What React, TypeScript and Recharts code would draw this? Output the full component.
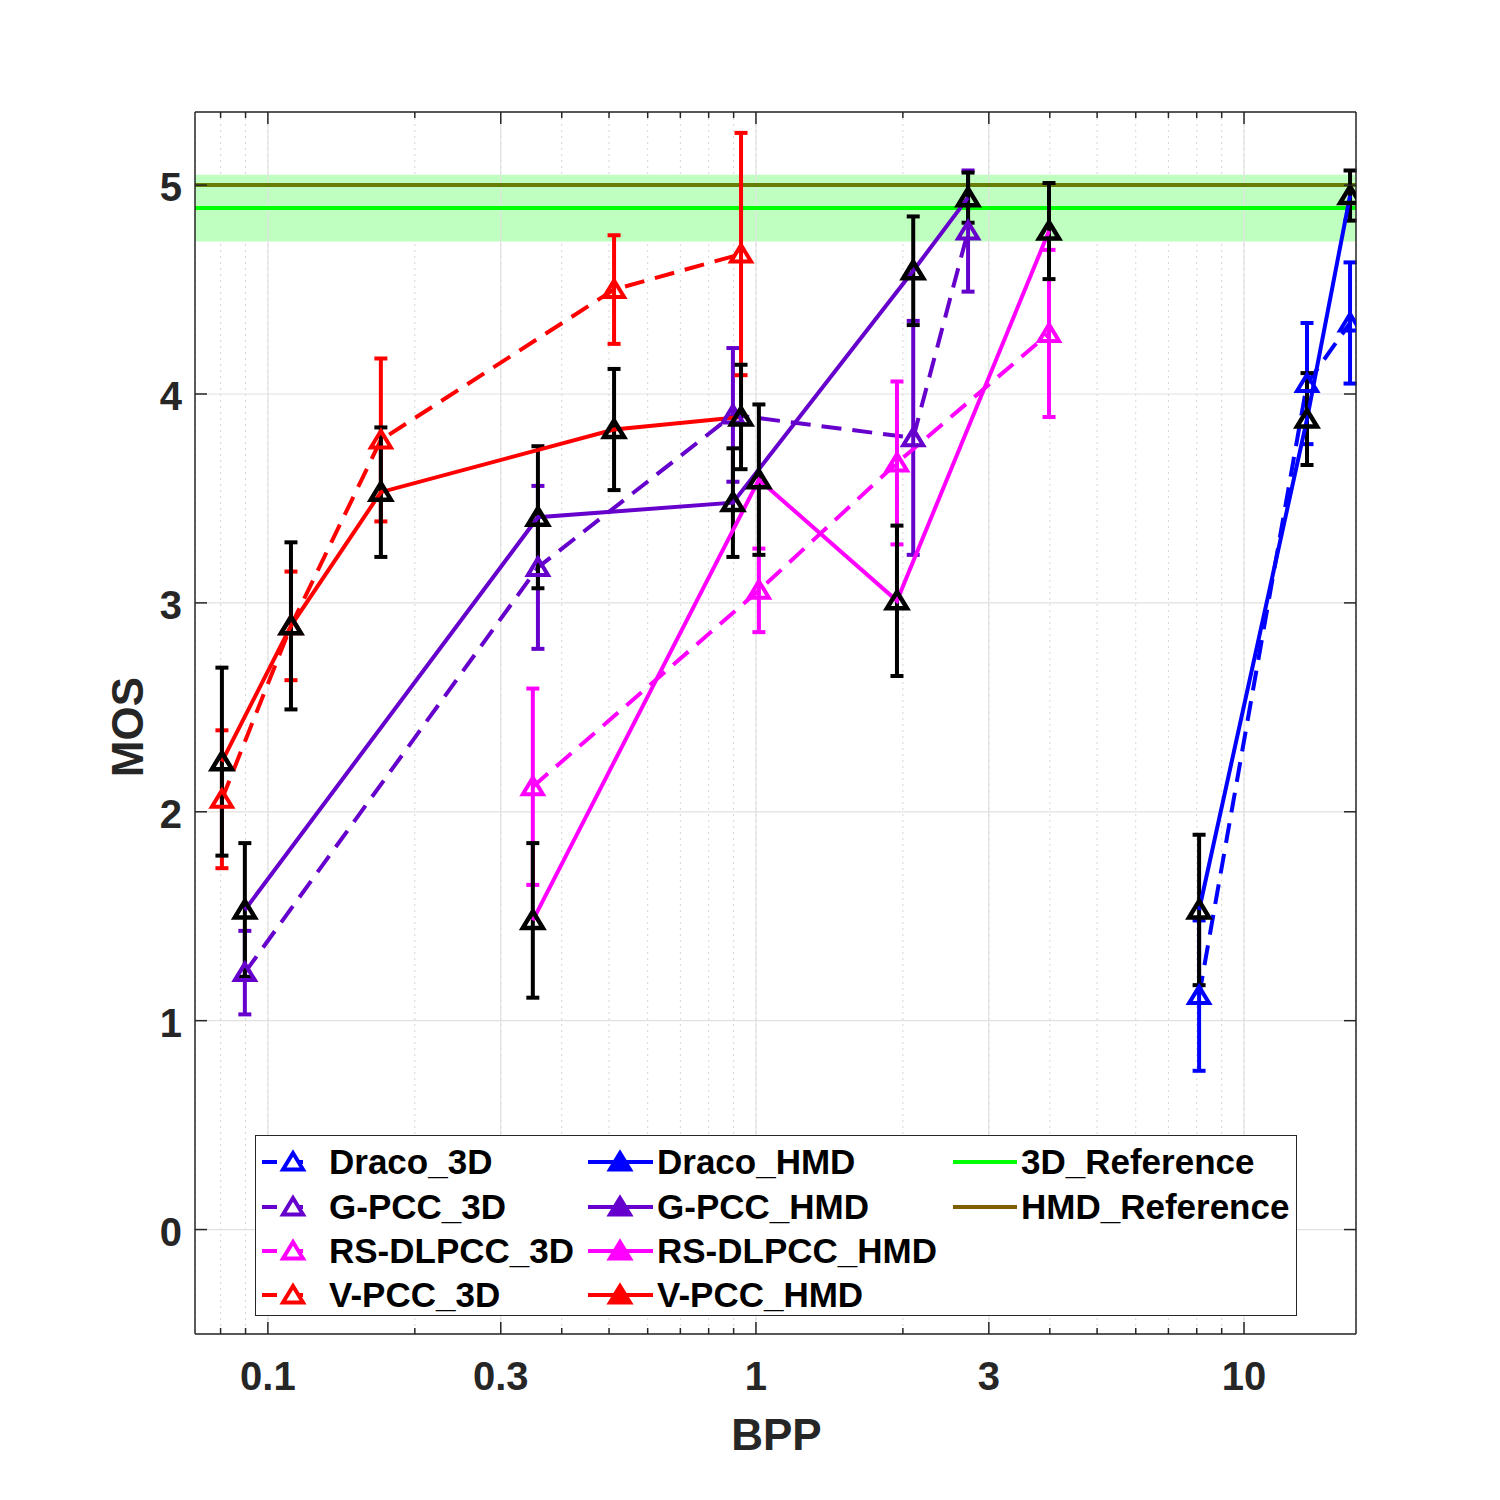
import React from 'react';
import {
  ComposedChart, Line, XAxis, YAxis, CartesianGrid, ReferenceLine, ReferenceArea, ErrorBar
} from 'recharts';

const FONT = '"Liberation Sans", Arial, Helvetica, sans-serif';
const AXIS = '#262626';

// values: BPP, MOS and half width of the 95% CI
const dracoBpp = [8.09, 13.46, 16.49];
const draco3dMos = [1.12, 4.05, 4.34];
const draco3dCi = [0.36, 0.29, 0.29];
const dracoHmdMos = [1.53, 3.88, 4.95];
const dracoHmdCi = [0.36, 0.22, 0.12];

const gpccBpp = [0.0897, 0.3575, 0.897, 2.1, 2.72];
const gpcc3dMos = [1.23, 3.17, 3.9, 3.79, 4.78];
const gpcc3dCi = [0.2, 0.39, 0.32, 0.56, 0.29];
const gpccHmdMos = [1.53, 3.41, 3.48, 4.59, 4.94];
const gpccHmdCi = [0.32, 0.34, 0.26, 0.26, 0.12];

const rsBpp = [0.349, 1.014, 1.945, 3.985];
const rs3dMos = [2.12, 3.06, 3.67, 4.29];
const rs3dCi = [0.47, 0.2, 0.39, 0.4];
const rsHmdMos = [1.48, 3.59, 3.01, 4.78];
const rsHmdCi = [0.37, 0.36, 0.36, 0.23];

const vpccBpp = [0.0805, 0.1115, 0.1704, 0.512, 0.932];
const vpcc3dMos = [2.06, 2.89, 3.78, 4.5, 4.67];
const vpcc3dCi = [0.33, 0.26, 0.39, 0.26, 0.58];
const vpccHmdMos = [2.24, 2.89, 3.53, 3.83, 3.89];
const vpccHmdCi = [0.45, 0.4, 0.31, 0.29, 0.25];

const ref3dMos = 4.89;
const ref3dBand = [4.73, 5.05];
const refHmdMos = 5.0;

const xMajorTicks = [0.1, 0.3, 1, 3, 10];
const xMinorTicks = [0.08, 0.09, 0.2, 0.4, 0.5, 0.6, 0.7, 0.8, 0.9, 2, 4, 5, 6, 7, 8, 9];
const yTicks = [0, 1, 2, 3, 4, 5];

const xTicks = [...xMajorTicks, ...xMinorTicks].sort((a, b) => a - b);

const rows = (bpp: number[], mos: number[], ci: number[]) =>
  bpp.map((b, i) => ({ bpp: b, mos: mos[i], ci: ci[i] }));

const series3d = [
  { name: 'Draco_3D', color: '#0000FF', data: rows(dracoBpp, draco3dMos, draco3dCi) },
  { name: 'G-PCC_3D', color: '#6600CC', data: rows(gpccBpp, gpcc3dMos, gpcc3dCi) },
  { name: 'RS-DLPCC_3D', color: '#FF00FF', data: rows(rsBpp, rs3dMos, rs3dCi) },
  { name: 'V-PCC_3D', color: '#FF0000', data: rows(vpccBpp, vpcc3dMos, vpcc3dCi) },
];

const seriesHmd = [
  { name: 'Draco_HMD', color: '#0000FF', data: rows(dracoBpp, dracoHmdMos, dracoHmdCi) },
  { name: 'G-PCC_HMD', color: '#6600CC', data: rows(gpccBpp, gpccHmdMos, gpccHmdCi) },
  { name: 'RS-DLPCC_HMD', color: '#FF00FF', data: rows(rsBpp, rsHmdMos, rsHmdCi) },
  { name: 'V-PCC_HMD', color: '#FF0000', data: rows(vpccBpp, vpccHmdMos, vpccHmdCi) },
];

const refs = [
  { name: '3D_Reference', color: '#00FF00' },
  { name: 'HMD_Reference', color: '#7F5F00' },
];

const DASH = '20 11';
const LW = 4;

const triPoints = (cx: number, cy: number) =>
  `${cx},${cy - 9} ${cx - 10},${cy + 7.5} ${cx + 10},${cy + 7.5}`;

const openTri = (color: string) => (p: any) => (
  <polygon key={`o-${p.index}`} points={triPoints(p.cx, p.cy)} fill="none" stroke={color} strokeWidth={4} />
);

const blackTri = (p: any) => (
  <polygon key={`b-${p.index}`} points={triPoints(p.cx, p.cy)} fill="none" stroke="#000" strokeWidth={4.5} />
);

const tickText = { fontFamily: FONT, fontSize: 40, fontWeight: 700, fill: AXIS };

const BottomTick = (p: any) => {
  const v = p.payload.value;
  const major = xMajorTicks.includes(v);
  return (
    <g>
      <line x1={p.x} x2={p.x} y1={p.y} y2={p.y - (major ? 12 : 6)} stroke={AXIS} strokeWidth={1.5} />
      {major && <text x={p.x} y={p.y + 56} textAnchor="middle" {...tickText}>{String(v)}</text>}
    </g>
  );
};

const TopTick = (p: any) => {
  const major = xMajorTicks.includes(p.payload.value);
  return <line x1={p.x} x2={p.x} y1={p.y} y2={p.y + (major ? 12 : 6)} stroke={AXIS} strokeWidth={1.5} />;
};

const LeftTick = (p: any) => (
  <g>
    <line x1={p.x} x2={p.x + 12} y1={p.y} y2={p.y} stroke={AXIS} strokeWidth={1.5} />
    <text x={p.x - 13} y={p.y + 16} textAnchor="end" {...tickText}>{String(p.payload.value)}</text>
  </g>
);

const RightTick = (p: any) => (
  <line x1={p.x} x2={p.x - 12} y1={p.y} y2={p.y} stroke={AXIS} strokeWidth={1.5} />
);

const YTitle = ({ viewBox }: any) => {
  const cx = viewBox.x + viewBox.width - 52;
  const cy = viewBox.y + viewBox.height / 2 + 4;
  return (
    <text x={cx} y={cy} transform={`rotate(-90 ${cx} ${cy})`} textAnchor="middle"
      fontFamily={FONT} fontSize={44} fontWeight={700} fill={AXIS}>MOS</text>
  );
};

const XTitle = ({ viewBox }: any) => (
  <text x={viewBox.x + viewBox.width / 2 + 1} y={viewBox.y + 116} textAnchor="middle"
    fontFamily={FONT} fontSize={44} fontWeight={700} fill={AXIS}>BPP</text>
);

// legend box, three columns like the MATLAB one
const LegendBox = () => {
  const rowY = [27, 72, 116, 160];
  const label = { fontFamily: FONT, fontSize: 35, fontWeight: 700, fill: '#000' };
  return (
    <div style={{
      position: 'absolute', left: 255, top: 1135, width: 1042, height: 181,
      background: '#fff', border: `1.5px solid ${AXIS}`, boxSizing: 'border-box',
    }}>
      <svg width={1042} height={181} style={{ position: 'absolute', left: -1.5, top: -1.5 }}>
        {series3d.map((s, i) => (
          <g key={s.name}>
            <line x1={7} x2={55} y1={rowY[i]} y2={rowY[i]} stroke={s.color} strokeWidth={4} strokeDasharray="15 11" />
            <polygon points={triPoints(38, rowY[i])} fill="#fff" stroke={s.color} strokeWidth={4} />
            <text x={74} y={rowY[i] + 12} {...label}>{s.name}</text>
          </g>
        ))}
        {seriesHmd.map((s, i) => (
          <g key={s.name}>
            <line x1={333} x2={398} y1={rowY[i]} y2={rowY[i]} stroke={s.color} strokeWidth={4} />
            <polygon points={triPoints(365, rowY[i])} fill={s.color} stroke={s.color} strokeWidth={4} />
            <text x={402} y={rowY[i] + 12} {...label}>{s.name}</text>
          </g>
        ))}
        {refs.map((r, i) => (
          <g key={r.name}>
            <line x1={698} x2={762} y1={rowY[i]} y2={rowY[i]} stroke={r.color} strokeWidth={4} />
            <text x={766} y={rowY[i] + 12} {...label}>{r.name}</text>
          </g>
        ))}
      </svg>
    </div>
  );
};

export default function App() {
  const xDomain = [0.0709, 16.96];
  const yDomain = [-0.5, 5.35];

  return (
    <div style={{ position: 'absolute', left: 0, top: 0, width: 1500, height: 1500, background: '#fff' }}>
      <ComposedChart width={1500} height={1500} margin={{ top: 0, right: 0, bottom: 0, left: 0 }}>
        <XAxis xAxisId={0} dataKey="bpp" type="number" scale="log" domain={xDomain} allowDataOverflow
          ticks={xTicks} interval={0} tickSize={0} tickMargin={0} tickLine={false} tick={BottomTick}
          height={166} axisLine={{ stroke: AXIS, strokeWidth: 1.5 }} label={{ content: XTitle }} />
        <XAxis xAxisId="top" orientation="top" dataKey="bpp" type="number" scale="log" domain={xDomain} allowDataOverflow
          ticks={xTicks} interval={0} tickSize={0} tickMargin={0} tickLine={false} tick={TopTick}
          height={112} axisLine={{ stroke: AXIS, strokeWidth: 1.5 }} />
        <YAxis yAxisId={0} type="number" domain={yDomain} allowDataOverflow ticks={yTicks} interval={0}
          tickSize={0} tickMargin={0} tickLine={false} tick={LeftTick} width={195}
          axisLine={{ stroke: AXIS, strokeWidth: 1.5 }} label={{ content: YTitle }} />
        <YAxis yAxisId="right" orientation="right" type="number" domain={yDomain} allowDataOverflow ticks={yTicks} interval={0}
          tickSize={0} tickMargin={0} tickLine={false} tick={RightTick} width={144}
          axisLine={{ stroke: AXIS, strokeWidth: 1.5 }} />

        <CartesianGrid horizontal={false} stroke="#d6d6d6" strokeDasharray="2 4" />
        <CartesianGrid vertical={false} stroke="#e1e1e1" strokeWidth={1.2} />
        {xMajorTicks.map((v) => (
          <ReferenceLine key={`g${v}`} x={v} stroke="#e1e1e1" strokeWidth={1.2} />
        ))}

        <ReferenceArea y1={ref3dBand[0]} y2={ref3dBand[1]} fill="#BFFFBF" fillOpacity={1} stroke="none" />
        <ReferenceLine y={refHmdMos} stroke="#687C08" strokeWidth={4} />
        <ReferenceLine y={ref3dMos} stroke="#00FF00" strokeWidth={4} />

        {series3d.map((s) => (
          <Line key={s.name} name={s.name} data={s.data} dataKey="mos" type="linear" stroke={s.color}
            strokeWidth={LW} strokeDasharray={DASH} dot={openTri(s.color)} activeDot={false}
            isAnimationActive={false}>
            <ErrorBar dataKey="ci" direction="y" width={6.5} stroke={s.color} strokeWidth={LW} isAnimationActive={false} />
          </Line>
        ))}
        {seriesHmd.map((s) => (
          <Line key={s.name} name={s.name} data={s.data} dataKey="mos" type="linear" stroke={s.color}
            strokeWidth={LW} dot={blackTri} activeDot={false} isAnimationActive={false}>
            <ErrorBar dataKey="ci" direction="y" width={6.5} stroke="#000" strokeWidth={LW} isAnimationActive={false} />
          </Line>
        ))}
      </ComposedChart>
      <LegendBox />
    </div>
  );
}
